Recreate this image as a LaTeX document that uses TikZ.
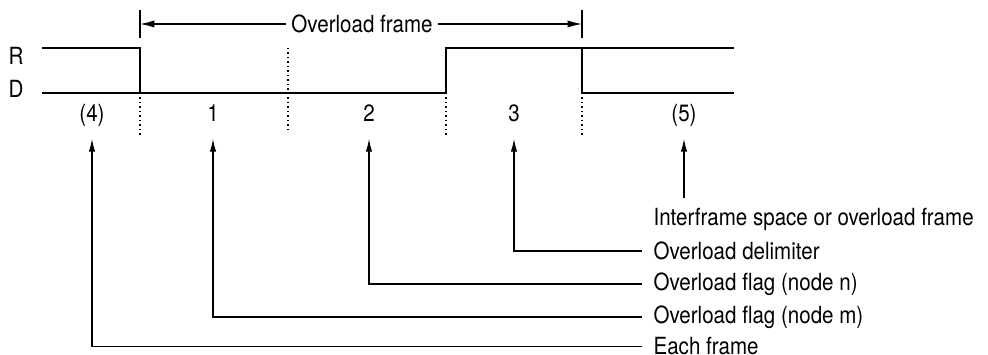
\documentclass[tikz,border=0pt]{standalone}
\usepackage{fontspec}
\setmainfont[FakeStretch=0.87]{TeX Gyre Heros}
\usetikzlibrary{arrows.meta,positioning}

\begin{document}
\begin{tikzpicture}[line width=0.85pt,
    font=\fontsize{16.8}{20}\selectfont,
    num/.style={inner sep=0pt, text height=0.75em, text depth=0.25em},
    desc/.style={anchor=west, inner xsep=0.275cm, inner ysep=0pt},
    leader/.style={-{Latex[length=3.2mm,width=1.6mm]}, shorten >=0.33cm},
    dotline/.style={dash pattern=on 1pt off 2.2pt}]
    \useasboundingbox (0,0) rectangle (24.7,8.875);

    % Bus levels
    \node (rec) at (0.4,7.475) {R};
    \node (dom) at (0.4,6.65) {D};
    \draw (1.05,7.675) -- (3.5,7.675) -- (3.5,6.55);
    \draw (1.05,6.55) -- (11.15,6.55) -- (11.15,7.675) -- (18.35,7.675);
    \draw (14.55,7.675) -- (14.55,6.55) -- (18.35,6.55);

    % Field boundaries
    \draw[dotline] (3.5,6.55) -- (3.5,5.5);
    \draw[dotline] (7.2,7.675) -- (7.2,5.625);
    \draw[dotline] (11.15,6.55) -- (11.15,5.5);
    \draw[dotline] (14.55,6.55) -- (14.55,5.5);

    % Overload frame span
    \draw (3.5,8.625) -- (3.5,7.925);
    \draw (14.55,8.625) -- (14.55,7.925);
    \coordinate (fs) at (3.5,8.275);
    \coordinate (fe) at (14.55,8.275);
    \node (ovl) at (9.05,8.275) {Overload frame};
    \draw[-{Latex[length=3.6mm,width=1.8mm]}] (ovl.west) -- (fs);
    \draw[-{Latex[length=3.6mm,width=1.8mm]}] (ovl.east) -- (fe);

    % Field numbers
    \node[num] (lab4) at (2.3,5.925) {(4)};
    \node[num] (lab1) at (5.325,5.925) {1};
    \node[num] (lab2) at (9.225,5.925) {2};
    \node[num] (lab3) at (12.85,5.925) {3};
    \node[num] (lab5) at (17.1,5.925) {(5)};

    % Descriptions
    \node[desc] (ifs) at (16.05,3.4) {Interframe space or overload frame};
    \node[desc] (delim) at (16.05,2.6) {Overload delimiter};
    \node[desc] (flagn) at (16.05,1.775) {Overload flag (node n)};
    \node[desc] (flagm) at (16.05,0.95) {Overload flag (node m)};
    \node[desc] (each) at (16.05,0.22) {Each frame};

    \draw[leader] ([yshift=0.22cm]ifs.north -| lab5.south) -- (lab5.south);
    \draw[leader] (delim.west) -| (lab3.south);
    \draw[leader] (flagn.west) -| (lab2.south);
    \draw[leader] (flagm.west) -| (lab1.south);
    \draw[leader] (each.west) -| (lab4.south);
\end{tikzpicture}
\end{document}
